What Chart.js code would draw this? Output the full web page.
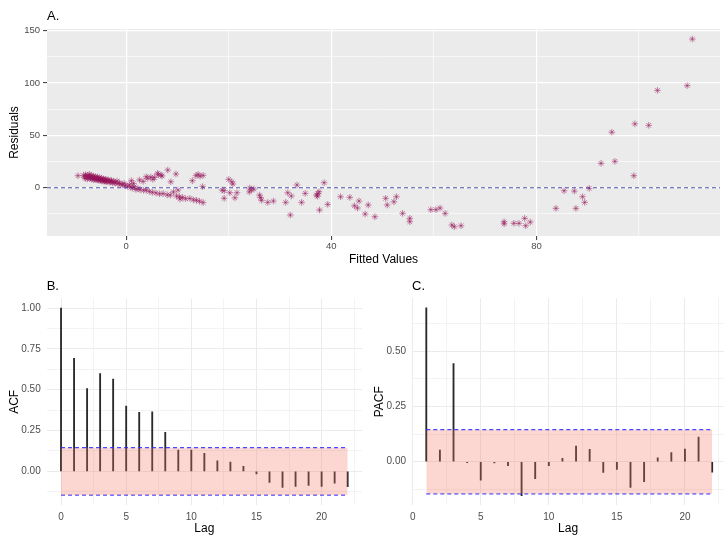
<!DOCTYPE html>
<html>
<head>
<meta charset="utf-8">
<script src="https://cdn.jsdelivr.net/npm/chart.js@4.4.1/dist/chart.umd.min.js"></script>
<style>
  body { margin: 0; background: #fff; }
  #wrap { position: relative; width: 725px; height: 539px; overflow: hidden; }
  canvas { position: absolute; }
</style>
</head>
<body>
<div id="wrap">
  <canvas id="resChart" width="725" height="268" style="left:0;top:0"></canvas>
  <canvas id="acfChart" width="365" height="271" style="left:0;top:268px"></canvas>
  <canvas id="pacfChart" width="360" height="271" style="left:365px;top:268px"></canvas>
</div>
<script>
// --- residuals vs fitted ---
const fittedValues = [
  -9.4, -8.3, -8.1, -8.0, -7.9, -7.7, -7.6, -7.5, -7.3, -7.2, -7.1, -7.0, -6.9, -6.8, -6.7, -6.6,
  -6.5, -6.4, -6.3, -6.2, -6.1, -6.0, -5.9, -5.8, -5.7, -5.6, -5.5, -5.4, -5.3, -5.2, -5.1, -5.0,
  -4.9, -4.8, -4.7, -4.6, -4.5, -4.4, -4.3, -4.2, -4.1, -4.0, -3.9, -3.8, -3.6, -3.5, -3.3, -3.2,
  -3.0, -2.9, -2.7, -2.5, -2.3, -2.1, -1.8, -1.6, -1.3, -1.0, -0.7, -0.4, -0.2, 0.3, 0.6, 0.9,
  1.2, 1.6, 1.9, 2.3, 2.7,
  1.0, 1.4, 2.6, 3.3, 3.9, 4.2, 4.8, 5.2, 5.5, 6.1, 6.3, 6.8, 7.0, 8.1, 8.7, 9.7,
  12.9, 13.6, 14.0, 14.4, 15.0, 14.9,
  3.4, 3.9, 4.5, 5.1, 5.8, 6.5, 7.2, 8.0, 8.6, 9.2, 9.8, 10.1, 10.4, 10.5, 11.0, 11.6,
  12.4, 13.1, 13.7, 14.3, 15.0,
  18.7, 19.1, 19.1, 20.0, 20.6, 20.8, 20.2, 21.6, 21.2, 24.0, 24.1, 24.4, 24.9, 26.0, 26.2, 26.4,
  27.6, 28.7, 31.1, 31.5, 32.0, 32.2, 33.3, 34.2, 34.9, 37.1, 37.3, 37.4, 37.6, 37.7, 38.6, 39.3,
  41.8, 43.6, 44.5, 45.1, 45.4, 46.6, 47.2, 48.5, 50.6, 50.9, 52.2, 52.7, 53.9, 55.3, 55.3,
  59.4, 60.4, 61.2, 62.2, 63.5, 64.0, 65.3, 73.7, 73.7, 75.6, 76.6, 77.7, 77.9, 78.8,
  83.8, 85.4, 87.4, 87.7, 89.0, 89.4, 90.3, 92.6, 94.7, 95.3, 99.0, 99.2, 101.9, 103.6, 109.4, 110.4
];
const residualValues = [
  11.5, 11.8, 10.2, 9.0, 12.5, 10.9, 8.4, 11.6, 9.8, 12.9, 8.9, 10.7, 9.5, 11.9, 8.2, 10.1,
  9.0, 11.0, 7.6, 9.7, 8.5, 10.6, 7.9, 9.3, 8.1, 10.2, 7.2, 8.8, 7.7, 9.6, 6.8, 8.3,
  7.4, 9.0, 6.5, 7.9, 6.9, 8.4, 6.1, 7.5, 6.6, 8.0, 5.7, 7.0, 6.2, 7.6, 5.3, 6.6,
  5.8, 7.1, 4.9, 6.0, 5.2, 4.4, 6.4, 3.9, 4.6, 3.3, 2.6, 4.1, 1.9, 1.2, 2.8, 0.5,
  -0.3, 1.0, -1.6, -0.8, -1.9,
  6.7, 4.0, 7.4, 6.0, 10.5, 9.0, 10.2, 8.0, 9.8, 13.8, 12.5, 12.1, 11.2, 16.9, 5.7, 13.1,
  6.7, 11.5, 12.8, 11.0, 11.8, 1.0,
  -2.5, -2.2, -3.5, -4.4, -5.0, -5.9, -5.6, -6.8, -7.1, -4.0, -8.0, -2.2, -8.6, -10.8, -9.3, -10.5,
  -10.2, -11.6, -12.0, -12.9, -14.2,
  -2.2, -2.9, -10.1, 8.0, 5.7, 3.5, -4.8, -4.8, -9.6, -4.0, -0.3, -2.1, -1.2, -7.0, -9.5, -12.0,
  -14.0, -12.7, -14.0, -4.8, -26.1, -7.9, 2.6, -14.0, -5.4, -7.0, -8.2, -5.6, -3.8, -21.3, 4.8, -15.9,
  -8.6, -9.2, -17.2, -19.4, -12.7, -25.1, -16.5, -27.7, -10.1, -16.5, -13.4, -8.6, -24.5, -29.2, -32.5,
  -21.0, -21.0, -19.4, -24.5, -35.6, -37.3, -36.3, -32.5, -34.5, -34.0, -34.0, -29.3, -36.3, -32.8,
  -19.7, -2.9, -3.2, -19.7, -8.6, -14.0, -0.6, 23.3, 53.0, 25.2, 11.5, 61.0, 59.6, 93.0, 97.5, 142.0
];
const fittedRange = [-15.45, 115.8];
const residualRange = [-46.1, 151.6];
const fittedMajor = [0, 40, 80];
const fittedMinor = [20, 60, 100];
const residualMajor = [0, 50, 100, 150];
const residualMinor = [-25, 25, 75, 125];

// --- ACF / PACF ---
const acfLags = [0, 1, 2, 3, 4, 5, 6, 7, 8, 9, 10, 11, 12, 13, 14, 15, 16, 17, 18, 19, 20, 21, 22];
const acfValues = [1.00, 0.692, 0.506, 0.598, 0.565, 0.400, 0.361, 0.365, 0.239, 0.130, 0.130, 0.110,
  0.065, 0.057, 0.030, -0.016, -0.067, -0.098, -0.092, -0.086, -0.092, -0.073, -0.094];
const pacfLags = [1, 2, 3, 4, 5, 6, 7, 8, 9, 10, 11, 12, 13, 14, 15, 16, 17, 18, 19, 20, 21, 22];
const pacfValues = [0.696, 0.053, 0.444, -0.004, -0.083, -0.006, -0.018, -0.154, -0.077, -0.018, 0.015,
  0.071, 0.056, -0.048, -0.035, -0.116, -0.090, 0.018, 0.041, 0.057, 0.111, -0.047];
const confBound = 0.145;
const lagMajor = [0, 5, 10, 15, 20];
const lagMinor = [2.5, 7.5, 12.5, 17.5, 22.5];
const acfMajor = [0, 0.25, 0.5, 0.75, 1];
const acfMinor = [-0.125, 0.125, 0.375, 0.625, 0.875];
const pacfMajor = [0, 0.25, 0.5];
const pacfMinor = [-0.125, 0.125, 0.375, 0.625];

const FONT = "'Liberation Sans', Arial, sans-serif";
Chart.defaults.font.family = FONT;

function tickList(major, minor) {
  return major.concat(minor).sort((a, b) => a - b).map(v => ({ value: v }));
}
const isMajor = (major, ctx) => ctx.tick && major.includes(ctx.tick.value);

// grey panel behind the scatter
const panelBg = {
  id: 'panelBg',
  beforeDraw(chart, args, opts) {
    if (!opts.color) return;
    const { ctx, chartArea: a } = chart;
    ctx.save();
    ctx.fillStyle = opts.color;
    ctx.fillRect(a.left, a.top, a.right - a.left, a.bottom - a.top);
    ctx.restore();
  }
};

function axis(opts) {
  return {
    type: 'linear',
    min: opts.min,
    max: opts.max,
    offset: false,
    afterBuildTicks: s => { s.ticks = tickList(opts.major, opts.minor); },
    afterFit: s => { if (s.isHorizontal()) s.height = opts.size; else s.width = opts.size; },
    border: { display: false },
    grid: {
      offset: false,
      color: opts.gridColor,
      lineWidth: ctx => isMajor(opts.major, ctx) ? opts.majorWidth : opts.minorWidth,
      drawTicks: opts.ticks,
      tickLength: 4,
      tickWidth: 1,
      tickColor: ctx => isMajor(opts.major, ctx) ? '#333333' : 'rgba(0,0,0,0)'
    },
    ticks: {
      color: '#4D4D4D',
      padding: opts.tickPad,
      font: { size: opts.fontSize },
      maxRotation: 0,
      autoSkip: false,
      callback: v => opts.major.includes(v) ? opts.fmt(v) : ''
    },
    title: {
      display: true,
      text: opts.title,
      color: '#000',
      font: { size: 12 },
      padding: opts.titlePad
    }
  };
}

function panelTitle(text, top, bottom) {
  return {
    display: true, text, align: 'start', fullSize: false,
    color: '#000', font: { size: 13, weight: 'normal' },
    padding: { top, bottom }
  };
}

const common = {
  responsive: false,
  devicePixelRatio: 1,
  animation: false,
  events: []
};

// A. residuals against fitted values
new Chart(document.getElementById('resChart'), {
  type: 'scatter',
  data: {
    datasets: [
      {
        type: 'line',
        data: fittedRange.map(x => ({ x, y: 0 })),
        borderColor: 'rgba(50,50,160,0.85)',
        borderWidth: 1.2,
        borderDash: [4, 3],
        pointRadius: 0,
        fill: false,
        order: 0
      },
      {
        data: fittedValues.map((x, i) => ({ x, y: residualValues[i] })),
        pointStyle: 'star',
        pointRadius: 3.3,
        borderColor: 'rgba(150,20,90,0.5)',
        borderWidth: 1,
        backgroundColor: 'rgba(150,20,90,0.5)',
        order: 1
      }
    ]
  },
  options: {
    ...common,
    layout: { padding: { left: 0, right: 1, top: 0, bottom: 0 } },
    plugins: {
      legend: { display: false },
      tooltip: { enabled: false },
      title: panelTitle('A.', 9, 4.4),
      panelBg: { color: '#EBEBEB' }
    },
    scales: {
      x: axis({ min: fittedRange[0], max: fittedRange[1], major: fittedMajor, minor: fittedMinor,
        fmt: v => String(v), size: 32, gridColor: '#FFFFFF', majorWidth: 1.2, minorWidth: 0.6,
        ticks: true, title: 'Fitted Values', titlePad: { top: 0, bottom: 0.8 }, tickPad: 1, fontSize: 9.5 }),
      y: axis({ min: residualRange[0], max: residualRange[1], major: residualMajor, minor: residualMinor,
        fmt: v => String(v), size: 47, gridColor: '#FFFFFF', majorWidth: 1.2, minorWidth: 0.6,
        ticks: true, title: 'Residuals', titlePad: { top: 7.8, bottom: 0 }, tickPad: 3, fontSize: 9.5 })
    }
  },
  plugins: [panelBg]
});

// B. / C. correlogram with confidence band
function correlogram(id, label, yLabel, lags, values, band, xRange, yRange, yMajor, yMinor, ySize, xSize, pad, titlePad) {
  return new Chart(document.getElementById(id), {
    type: 'bar',
    data: {
      datasets: [
        {
          type: 'line',
          data: band.map(x => ({ x, y: confBound })),
          borderColor: 'rgba(40,40,255,0.85)',
          borderWidth: 1.2,
          borderDash: [4, 3],
          pointRadius: 0,
          fill: { value: -confBound },
          backgroundColor: 'rgba(245,120,100,0.3)',
          order: 0
        },
        {
          type: 'line',
          data: band.map(x => ({ x, y: -confBound })),
          borderColor: 'rgba(40,40,255,0.85)',
          borderWidth: 1.2,
          borderDash: [4, 3],
          pointRadius: 0,
          fill: false,
          order: 0
        },
        {
          data: lags.map((x, i) => ({ x, y: values[i] })),
          backgroundColor: '#2a2a2a',
          barThickness: 1.2,
          order: 1
        }
      ]
    },
    options: {
      ...common,
      layout: { padding: pad },
      plugins: {
        legend: { display: false },
        tooltip: { enabled: false },
        title: panelTitle(label, titlePad[0], titlePad[1])
      },
      scales: {
        x: axis({ min: xRange[0], max: xRange[1], major: lagMajor, minor: lagMinor,
          fmt: v => String(v), size: xSize, gridColor: '#EBEBEB', majorWidth: 1, minorWidth: 0.6,
          ticks: false, title: 'Lag', titlePad: { top: 0, bottom: 2.8 }, tickPad: 6, fontSize: 10 }),
        y: axis({ min: yRange[0], max: yRange[1], major: yMajor, minor: yMinor,
          fmt: v => v.toFixed(2), size: ySize, gridColor: '#EBEBEB', majorWidth: 1, minorWidth: 0.6,
          ticks: false, title: yLabel, titlePad: { top: 7.8, bottom: 0 }, tickPad: 6, fontSize: 10 })
      }
    }
  });
}

correlogram('acfChart', 'B.', 'ACF', acfLags, acfValues, [0, 22], [-1.1, 23.1], [-0.206, 1.057],
  acfMajor, acfMinor, 46.7, 34, { left: 0, right: 3, top: 0, bottom: 0 }, [10.2, 4.9]);
correlogram('pacfChart', 'C.', 'PACF', pacfLags, pacfValues, [1, 22], [-0.05, 22.88], [-0.197, 0.739],
  pacfMajor, pacfMinor, 47, 33.7, { left: 0, right: 0, top: 0, bottom: 0 }, [10.2, 4.4]);
</script>
</body>
</html>
